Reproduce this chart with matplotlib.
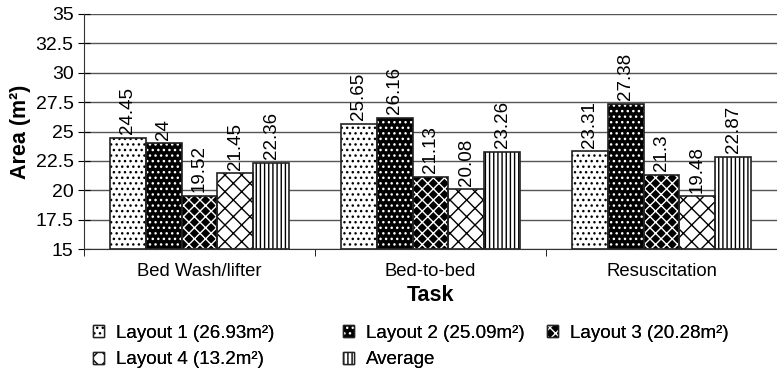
import matplotlib
matplotlib.use("Agg")
import matplotlib.pyplot as plt
import matplotlib.patches as mpatches
import numpy as np

plt.rcParams['font.family'] = ['Liberation Sans', 'DejaVu Sans']
plt.rcParams['hatch.linewidth'] = 1.0

# 任务类别与各布局面积
tasks = ["Bed Wash/lifter", "Bed-to-bed", "Resuscitation"]
layout1 = [24.45, 25.65, 23.31]
layout2 = [24, 26.16, 27.38]
layout3 = [19.52, 21.13, 21.3]
layout4 = [21.45, 20.08, 19.48]
average = [22.36, 23.26, 22.87]
series_names = ["Layout 1 (26.93m²)", "Layout 2 (25.09m²)", "Layout 3 (20.28m²)",
                "Layout 4 (13.2m²)", "Average"]
yticks = [15, 17.5, 20, 22.5, 25, 27.5, 30, 32.5, 35]

series = [layout1, layout2, layout3, layout4, average]
# (底色, 纹理颜色, 纹理)
styles = [("white", "black", "..."),
          ("black", "white", "..."),
          ("black", "white", "xxx"),
          ("white", "black", "xx"),
          ("white", "black", "||||")]

W, H = 777, 374
fig = plt.figure(figsize=(W / 100, H / 100), dpi=100)
ax = fig.add_axes([84 / W, 1 - 249 / H, 693 / W, 235 / H])

x = np.arange(len(tasks))
bw = 0.774 / 5
handles = []
for i, (vals, (fc, hc, hatch)) in enumerate(zip(series, styles)):
    pos = x - 0.387 + bw * (i + 0.5)
    ax.bar(pos, np.array(vals) - 15, bw, bottom=15, color=fc, edgecolor=hc,
           hatch=hatch, linewidth=0, zorder=2)
    ax.bar(pos, np.array(vals) - 15, bw, bottom=15, fill=False,
           edgecolor="#222222", linewidth=1.2, zorder=3)
    for p, v in zip(pos, vals):
        ax.text(p, v + 0.3, f"{v:g}", rotation=90, ha="center", va="bottom",
                fontsize=13.5)
    # 图例方块：纹理 + 黑色边框叠加
    handles.append((mpatches.Patch(facecolor=fc, edgecolor=hc, hatch=hatch, linewidth=0),
                    mpatches.Patch(fill=False, edgecolor="#222222", linewidth=1)))

ax.set_ylim(15, 35)
ax.set_yticks(yticks)
ax.set_yticklabels([f"{t:g}" for t in yticks], fontsize=14)
ax.set_xlim(-0.5, 2.5)
ax.set_xticks(x)
ax.set_xticklabels(tasks, fontsize=13.3)
ax.tick_params(axis="x", which="major", length=0, pad=10)
ax.set_xticks(np.arange(-0.5, 3.0, 1), minor=True)
ax.tick_params(axis="x", which="minor", length=5, direction="out")
ax.tick_params(axis="y", length=9, direction="inout", pad=3)

ax.grid(axis="y", color="#555555", linewidth=1, zorder=0)
ax.set_axisbelow(True)
ax.spines["top"].set_visible(False)
ax.spines["right"].set_visible(False)
ax.spines["left"].set_color("#333333")
ax.spines["bottom"].set_color("#333333")

ax.set_ylabel("Area (m²)", fontsize=15.5, fontweight="bold", labelpad=3)
ax.set_xlabel("Task", fontsize=15.5, fontweight="bold", labelpad=4)

# 图例分三列摆放：第1行 L1 L2 L3，第2行 L4 Average
columns = [([0, 3], 93), ([1, 4], 343), ([2], 547)]
for idx, xpos in columns:
    leg = fig.legend(handles=[handles[k] for k in idx],
                     labels=[series_names[k] for k in idx],
                     loc="upper left", bbox_to_anchor=(xpos / W, 1 - 325 / H),
                     borderpad=0, borderaxespad=0, frameon=False, fontsize=13.5,
                     handlelength=0.6, handleheight=0.6, handletextpad=0.6,
                     labelspacing=0.5)
    fig.add_artist(leg)

fig.savefig("out.png", dpi=100)
